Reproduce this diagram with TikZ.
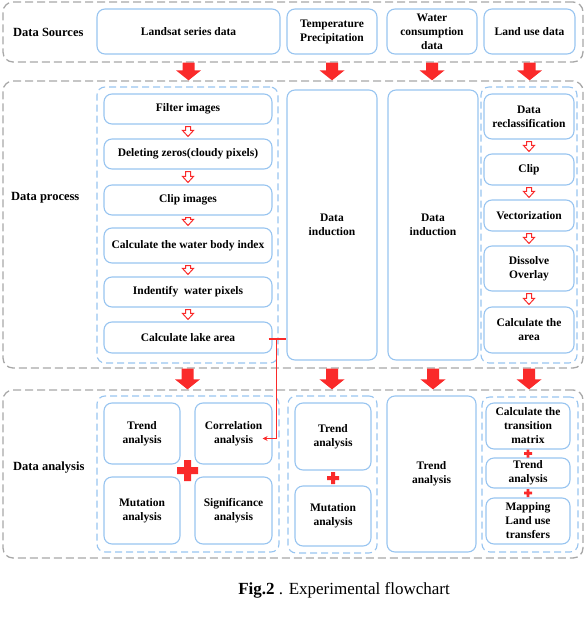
\documentclass[tikz,border=0pt]{standalone}
\usepackage{fontspec}
\setmainfont{Liberation Serif}
\usetikzlibrary{arrows.meta,calc}

\begin{document}
\begin{tikzpicture}[x=1pt, y=-1pt, font=\fontsize{11.5}{14}\selectfont\bfseries,
    kasten/.style={draw=blau, line width=1.1pt, rounded corners=8pt, align=center, inner sep=0pt},
    gruppe/.style={draw=blau, line width=1.1pt, dash pattern=on 7pt off 4pt, rounded corners=8pt, inner sep=0pt},
    rahmen/.style={draw=grau, line width=1.3pt, dash pattern=on 8pt off 4pt, rounded corners=10pt, inner sep=0pt},
    titel/.style={anchor=west, inner sep=0pt, font=\fontsize{12.5}{15}\selectfont\bfseries},
    dick/.style={fill=rot},
    hohl/.style={draw=rot, fill=white, line width=1pt, line join=miter},
    verbind/.style={rot, line width=1.2pt},
    plus/.pic={\fill[rot] ({-#1/2},{-#1/6}) rectangle ({#1/2},{#1/6})
      ({-#1/6},{-#1/2}) rectangle ({#1/6},{#1/2});},
  ]
  \definecolor{blau}{RGB}{152,196,240}
  \definecolor{grau}{RGB}{168,168,168}
  \definecolor{rot}{RGB}{250,42,42}

  \useasboundingbox (0,0) rectangle (588,621);

  % Kasten von (x1,y1) bis (x2,y2): \kasten[Stil]{Name}{x1}{y1}{x2}{y2}{Text}
  \newcommand{\kasten}[7][kasten]{%
    \node[#1, minimum width={(#5-#3)*1pt}, minimum height={(#6-#4)*1pt}]
      (#2) at ({(#3+#5)/2},{(#4+#6)/2}) {#7};}
  % Blockpfeil: \pfeilform{Stil}{oben}{unten}{Schaft/2}{Spitze/2}{Spitzenlaenge}{Abstand}
  \newcommand{\pfeilform}[7]{%
    \path[#1] ($(#2)+(-#4,#7)$) -- ($(#2)+(#4,#7)$) -- ($(#3)+(#4,-#6-#7)$)
      -- ($(#3)+(#5,-#6-#7)$) -- ($(#3)+(0,-#7)$) -- ($(#3)+(-#5,-#6-#7)$)
      -- ($(#3)+(-#4,-#6-#7)$) -- cycle;}
  \newcommand{\hohlpfeil}[2]{\pfeilform{hohl}{#1.south}{#2.north}{2.5}{5.5}{6}{2}}
  \newcommand{\dickpfeil}[3]{\pfeilform{dick}{#1.south -| #3}{#2.north -| #3}{6}{12.5}{10}{0}}

  % ---------------- Rahmen -------------------------------------------
  \kasten[rahmen]{quellen}{3}{2}{583}{62}{}
  \kasten[rahmen]{prozess}{3}{81}{583}{368}{}
  \kasten[rahmen]{analyse}{3}{390}{583}{558}{}
  \node[titel] (tquellen) at (13,32) {Data Sources};
  \node[titel] (tprozess) at (11,198) {Data process};
  \node[titel] (tanalyse) at (13,468) {Data analysis};

  % ---------------- Datenquellen -------------------------------------
  \kasten{landsat}{97}{9}{280}{54}{Landsat series data}
  \kasten{klima}{287}{9}{377}{54}{Temperature\\Precipitation}
  \kasten{wasser}{387}{9}{477}{54}{Water\\consumption\\data}
  \kasten{landnutzung}{484}{9}{575}{54}{Land use data}

  % ---------------- Datenverarbeitung --------------------------------
  \kasten[gruppe]{gruppeL}{97}{87}{278}{363}{}
  \kasten{filter}{104}{94}{272}{124}{Filter images}
  \kasten{nullen}{104}{139}{272}{169}{Deleting zeros(cloudy pixels)}
  \kasten{clip}{104}{185}{272}{215}{Clip images}
  \kasten{index}{104}{228}{272}{263}{Calculate the water body index}
  \kasten{pixel}{104}{277}{272}{307}{Indentify~ water pixels}
  \kasten{see}{104}{322}{272}{353}{Calculate lake area}
  \kasten{indA}{287}{90}{377}{360}{Data\\induction}
  \kasten{indB}{388}{90}{478}{360}{Data\\induction}
  \kasten[gruppe]{gruppeN}{481}{87}{577}{363}{}
  \kasten{reklass}{484}{94}{574}{139}{Data\\reclassification}
  \kasten{clipN}{484}{154}{574}{185}{Clip}
  \kasten{vektor}{484}{200}{574}{231}{Vectorization}
  \kasten{dissolve}{484}{246}{574}{291}{Dissolve\\Overlay}
  \kasten{flaeche}{484}{307}{574}{353}{Calculate the\\area}

  % ---------------- Datenanalyse -------------------------------------
  \kasten[gruppe]{gruppeLA}{97}{396}{279}{552}{}
  \kasten{trendA}{104}{403}{180}{464}{Trend\\analysis}
  \kasten{korr}{195}{403}{272}{464}{Correlation\\analysis}
  \kasten{mutA}{104}{477}{180}{544}{Mutation\\analysis}
  \kasten{signif}{195}{477}{272}{544}{Significance\\analysis}
  \kasten[gruppe]{gruppeKA}{288}{396}{377}{553}{}
  \kasten{trendB}{295}{403}{371}{470}{Trend\\analysis}
  \kasten{mutB}{295}{486}{371}{546}{Mutation\\analysis}
  \kasten{trendC}{387}{396}{476}{552}{Trend\\analysis}
  \kasten[gruppe]{gruppeNA}{482}{397}{578}{552}{}
  \kasten{matrix}{486}{403}{570}{449}{Calculate the\\transition\\matrix}
  \kasten{trendD}{486}{458}{570}{488}{Trend\\analysis}
  \kasten{mapping}{486}{498}{570}{544}{Mapping\\Land use\\transfers}

  % Pluszeichen
  \pic at ($(trendA.south east)!.5!(signif.north west)$) {plus=21};
  \pic at ($(trendB.south)!.5!(mutB.north)$) {plus=12};
  \pic at ($(matrix.south)!.5!(trendD.north)$) {plus=8};
  \pic at ($(trendD.south)!.5!(mapping.north)$) {plus=8};

  % ---------------- Pfeile -------------------------------------------
  \foreach \spalte in {landsat,klima,wasser,landnutzung}
    \dickpfeil{quellen}{prozess}{\spalte};
  \foreach \spalte in {gruppeL,indA,indB,gruppeN}
    \dickpfeil{prozess}{analyse}{\spalte};
  \hohlpfeil{filter}{nullen}
  \hohlpfeil{nullen}{clip}
  \hohlpfeil{clip}{index}
  \hohlpfeil{index}{pixel}
  \hohlpfeil{pixel}{see}
  \hohlpfeil{reklass}{clipN}
  \hohlpfeil{clipN}{vektor}
  \hohlpfeil{vektor}{dissolve}
  \hohlpfeil{dissolve}{flaeche}

  % Seeflaeche -> Korrelation
  \draw[verbind] ($(see.east)+(-4,1.5)$) -- ($(see.east -| indA.west)+(0,1.5)$);
  \draw[verbind, -{Stealth[length=5pt, width=5pt]}] ($(see.east)+(4,1.5)$)
    |- ($(korr.east)+(-10,5)$);

  \node[font=\normalfont\fontsize{17}{20}\selectfont] (unterschrift) at (344,590)
    {\textbf{Fig.2} . Experimental flowchart};
\end{tikzpicture}
\end{document}
